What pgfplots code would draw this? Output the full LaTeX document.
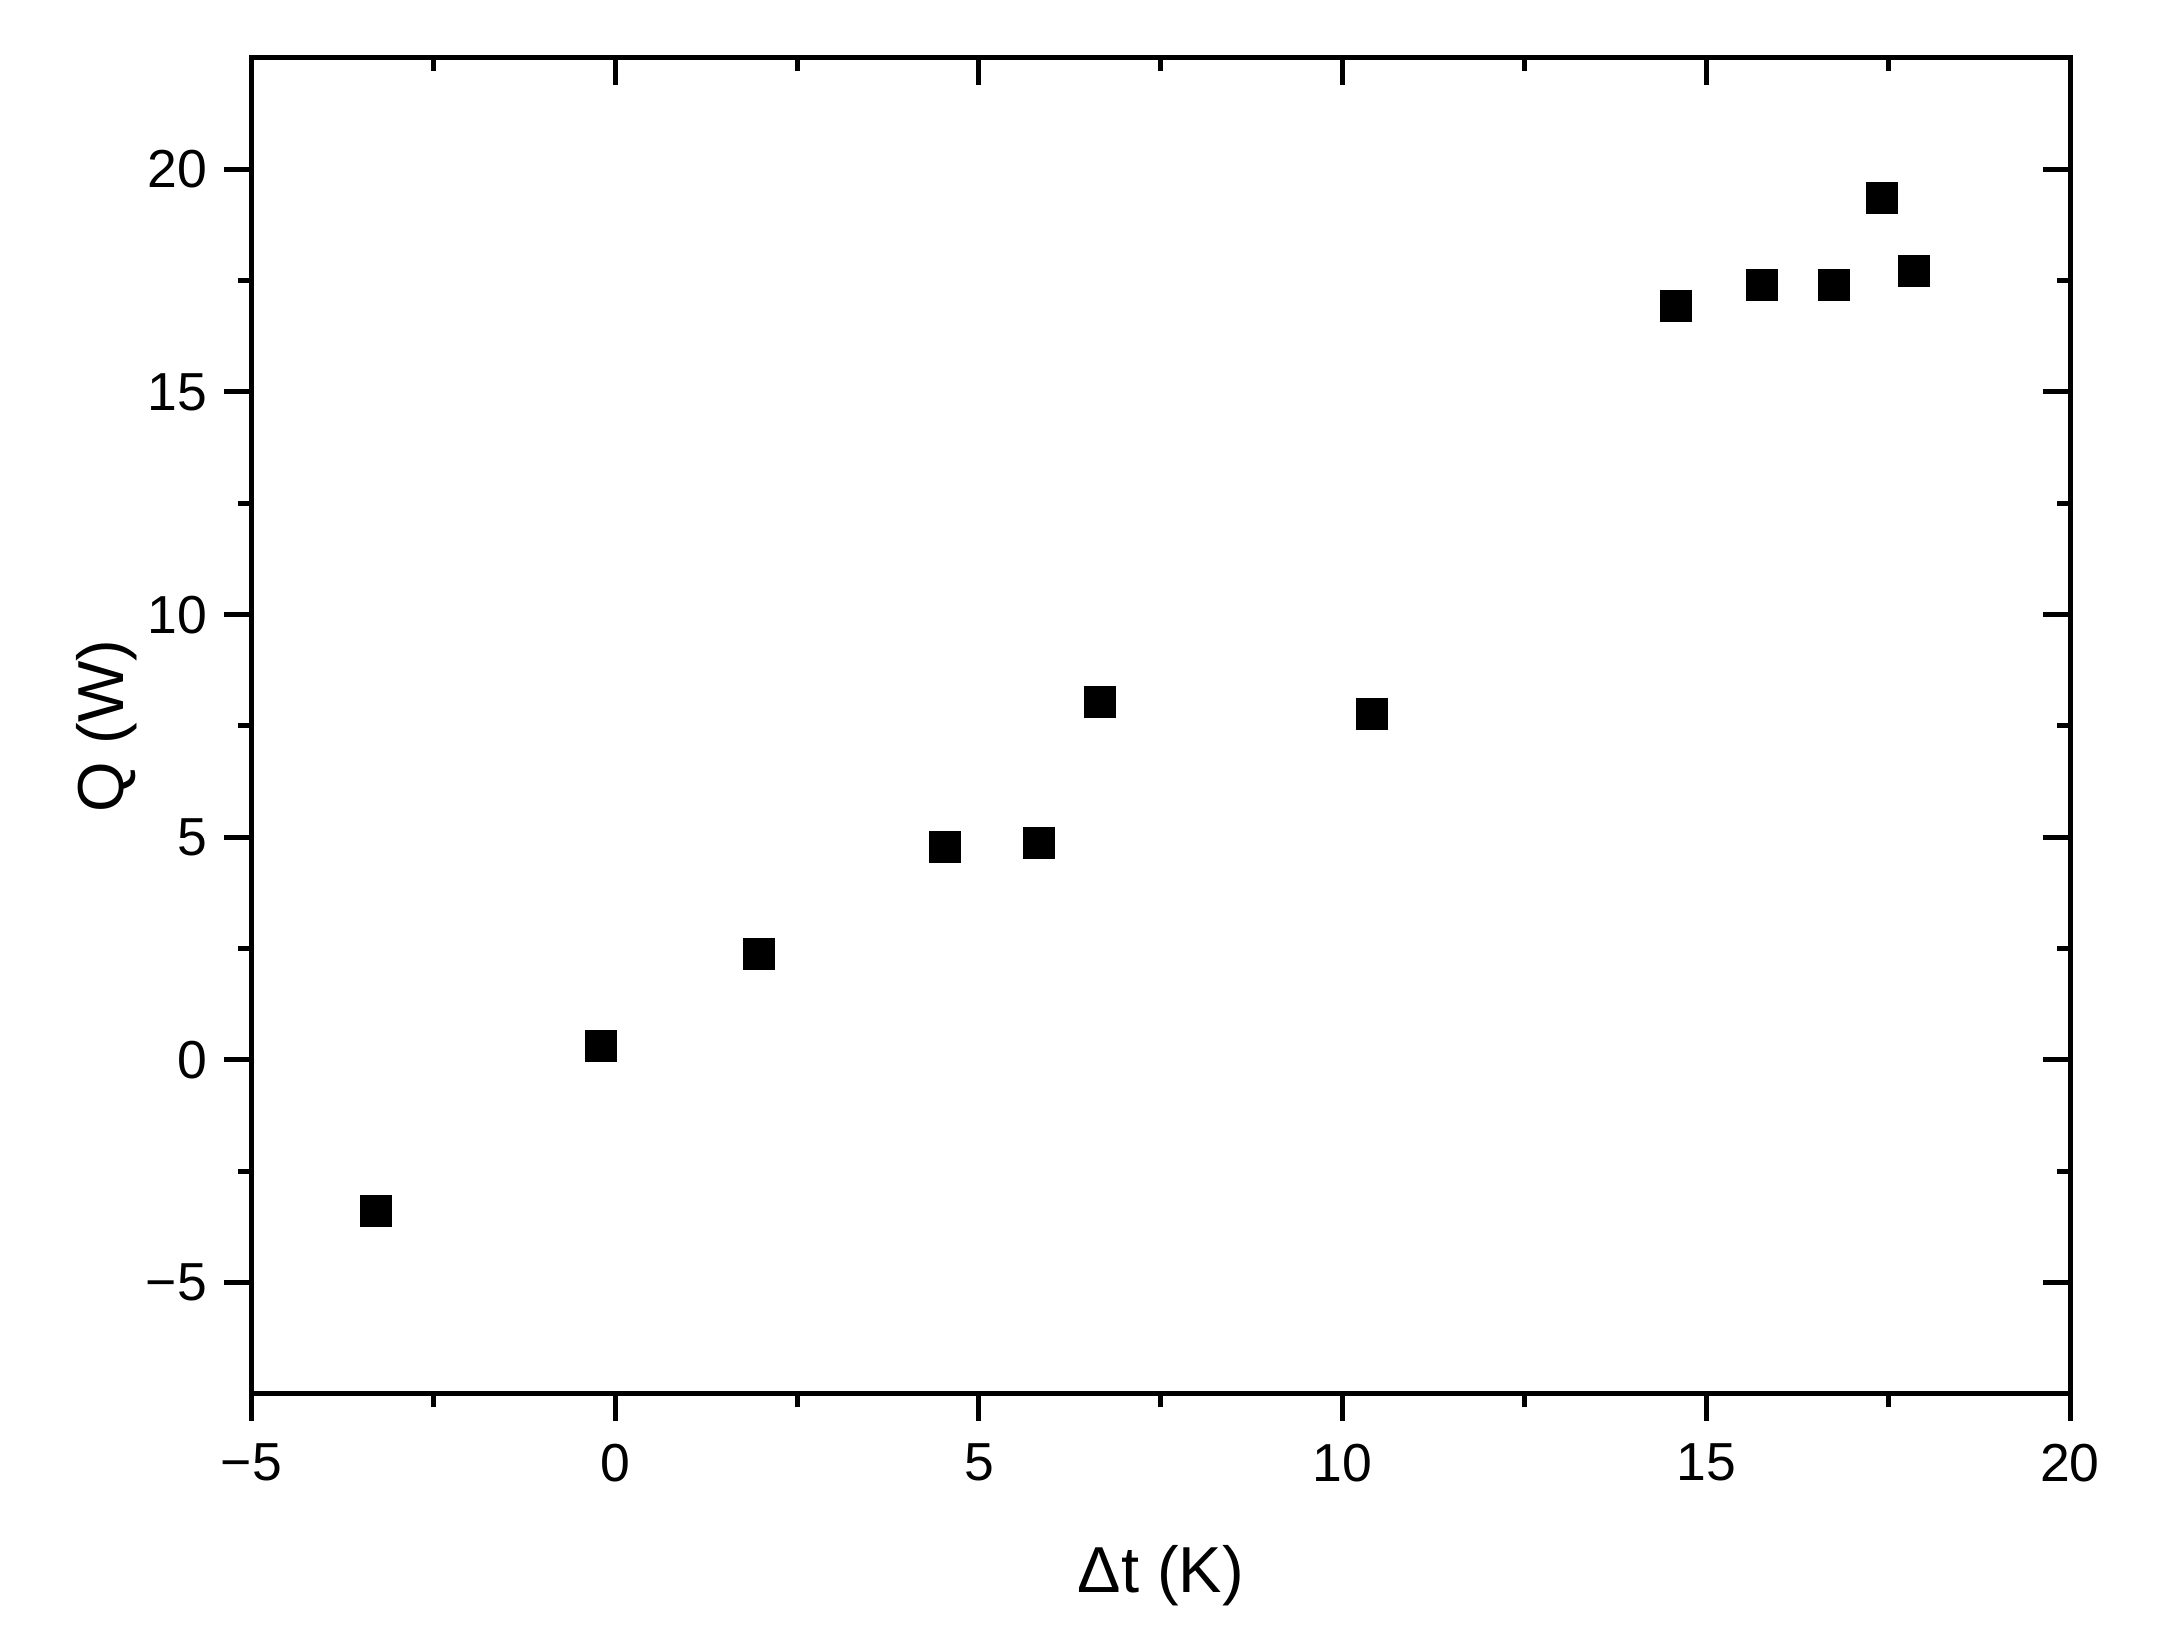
\documentclass[border=0pt]{standalone}
\usepackage{pgfplots}
\pgfplotsset{compat=1.18}
\usepackage{fontspec}
\setmainfont{Liberation Sans}

\pgfplotsset{
  frame/.style={
    width=363.7pt, height=267.2pt,
    scale only axis,
    xmin=-5, xmax=20,
    ymin=-7.5, ymax=22.5,
    xtick={-5,0,5,10,15,20},
    ytick={-5,0,5,10,15,20},
    minor x tick num=1,
    minor y tick num=1,
    major tick length=5.4pt,
    minor tick length=2.7pt,
    tick style={black, line width=1pt},
    axis line style={line width=1pt},
  }
}

\begin{document}
\begin{tikzpicture}
  % ticks inward on the top and right
  \begin{axis}[frame,
    xtick pos=top, ytick pos=right, tick align=inside,
    xticklabels={}, yticklabels={},
  ]
  \end{axis}
  \begin{axis}[frame,
    xtick pos=bottom, ytick pos=left, tick align=outside,
    xticklabels={−5,0,5,10,15,20},
    yticklabels={−5,0,5,10,15,20},
    tick label style={font=\fontsize{10.7}{12}\selectfont},
    xticklabel style={yshift=-1pt},
    label style={font=\fontsize{13}{15}\selectfont},
    xlabel={Δt (K)},
    ylabel={Q (W)},
    xlabel style={yshift=-6pt},
    ylabel style={yshift=-5pt},
  ]
    \addplot[only marks, mark=square*, mark size=3pt, black] coordinates {
      (-3.29,-3.38) (-0.19,0.31) (1.98,2.39) (4.54,4.78) (5.82,4.87)
      (6.67,8.03) (10.40,7.78) (14.58,16.93) (15.76,17.40) (16.75,17.40)
      (17.41,19.35) (17.85,17.71)
    };
  \end{axis}
  \path ([xshift=-50.3pt,yshift=-50pt]current axis.south west)
        rectangle ([xshift=19.6pt,yshift=11.6pt]current axis.north east);
\end{tikzpicture}
\end{document}
